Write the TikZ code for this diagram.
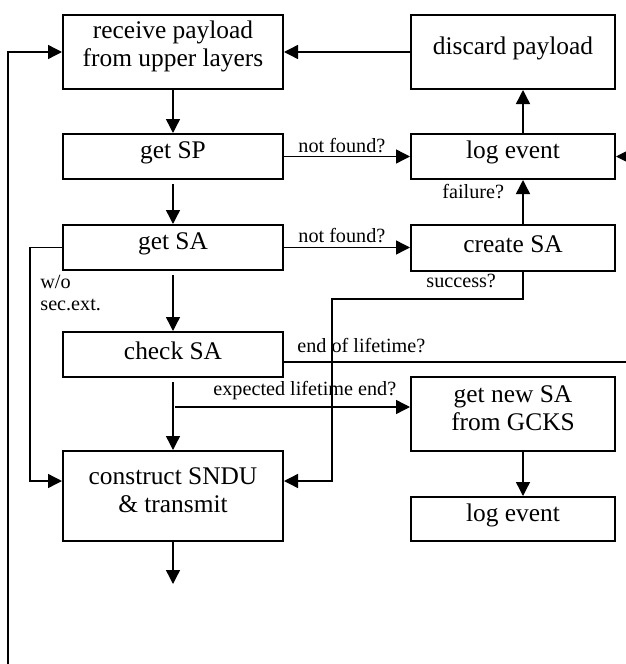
\documentclass[tikz,border=0pt]{standalone}
\usepackage{fontspec}
\setmainfont{Liberation Serif}
\usetikzlibrary{arrows.meta}
\begin{document}
\begin{tikzpicture}[x=0.5pt,y=-0.5pt,
  box/.style={draw,line width=1pt,inner sep=0pt,rectangle},
  lbox/.style={box,minimum width=110pt},
  rbox/.style={box,minimum width=102pt},
  txt/.style={font=\fontsize{12.7}{14}\selectfont,align=center,yshift=2.8pt,inner sep=0pt},
  txt1/.style={txt,yshift=-1pt},
  lab/.style={font=\fontsize{10.1}{12}\selectfont,anchor=base west,inner sep=0pt},
  conn/.style={line width=0.7pt,-{Triangle[length=7pt,width=7pt]}}]
\useasboundingbox (0,0) rectangle (626,664);
\clip (0,0) rectangle (626,664);
% boxes
\node[lbox,minimum height=37pt,label={[txt]center:receive payload\\from upper layers}] (recv) at (173,52) {};
\node[lbox,minimum height=22.5pt,label={[txt1]center:get SP}] (sp) at (173,156.5) {};
\node[lbox,minimum height=22.5pt,label={[txt1]center:get SA}] (sa) at (173,247.5) {};
\node[lbox,minimum height=22.5pt,label={[txt1]center:check SA}] (chk) at (173,354.5) {};
\node[lbox,minimum height=45pt,label={[txt]center:construct SNDU\\\& transmit}] (cons) at (173,496) {};
\node[rbox,minimum height=37pt,label={[txt1]center:discard payload}] (disc) at (513,52) {};
\node[rbox,minimum height=22.5pt,label={[txt1]center:log event}] (log) at (513,156.5) {};
\node[rbox,minimum height=23pt,label={[txt1]center:create SA}] (create) at (513,247.5) {};
\node[rbox,minimum height=37pt,label={[txt]center:get new SA\\from GCKS}] (gcks) at (513,414) {};
\node[rbox,minimum height=22pt,label={[txt1]center:log event}] (log2) at (513,519) {};
% helper coordinates
\coordinate (spout) at (173,584);
\coordinate (ex) at (175,407);
\coordinate (loopstart) at (8,700);
\coordinate (rightx) at (640,0);
\coordinate (sbend) at (332,299);
\coordinate (wbend) at (30,0);
\coordinate (consw) at ([yshift=7.5pt]cons.west);
\coordinate (conse) at ([yshift=7.5pt]cons.east);
% labels
\node[lab] (l1) at (298,152) {not found?};
\node[lab] (l2) at (298,242) {not found?};
\node[lab] (l3) at (442,198) {failure?};
\node[lab] (l4) at (426,287) {success?};
\node[lab] (l5) at (297,352) {end of lifetime?};
\node[lab] (l6) at (213,395) {expected lifetime end?};
\node[lab] (l7) at (40,288) {w/o};
\node[lab] (l8) at (40,310) {sec.ext.};
% connectors
\draw[conn] (recv) -- (sp);
\draw[conn,shorten <=2pt] (sp) -- (sa);
\draw[conn,shorten <=2pt] (sa) -- (chk);
\draw[conn,shorten <=2pt] (chk) -- (cons);
\draw[conn] (cons) -- (spout);
\draw[conn] (sp) -- (log);
\draw[conn] (sa) -- (create);
\draw[conn] ([xshift=5pt]log.north) -- ([xshift=5pt]disc.south);
\draw[conn] ([xshift=5pt]create.north) -- ([xshift=5pt]log.south);
\draw[conn] (disc) -- (recv);
\draw[conn] ([xshift=5pt]create.south) |- (sbend) |- (conse);
\draw[conn] ([yshift=-3.75pt]chk.east) -| (rightx |- log.east) -- (log.east);
\draw[conn] (ex) -- (ex -| gcks.west);
\draw[conn] ([xshift=5pt]gcks.south) -- ([xshift=5pt]log2.north);
\draw[conn] (sa.west) -| (wbend |- consw) -- (consw);
\draw[conn] (loopstart) |- (recv.west);
\end{tikzpicture}
\end{document}
